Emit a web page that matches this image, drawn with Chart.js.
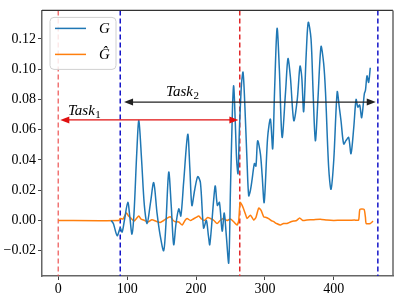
<!DOCTYPE html>
<html>
<head>
<meta charset="utf-8">
<script src="https://cdn.jsdelivr.net/npm/chart.js@4.4.1/dist/chart.umd.min.js"></script>
<style>
  html, body { margin: 0; padding: 0; background: #fff; }
  #wrap { width: 398px; height: 295px; }
</style>
</head>
<body>
<div id="wrap"><canvas id="lineChart" width="398" height="295"></canvas></div>
<script>
// G (blue) and G-hat (orange)
const gX = [77, 80, 85.5, 90, 92.7, 96, 101, 104, 107, 110, 114, 117, 121, 125, 129, 134, 138.6, 143.5, 148, 153, 156, 160.4, 164, 167.6, 171, 175, 178, 182, 188, 191, 194, 198, 202.5, 206.4, 211, 215, 218, 220, 225.7, 228, 231, 234, 238, 241, 244, 247.5, 250, 253, 254.7, 257, 259, 261, 263, 266, 268.3, 271, 274, 276.5, 279, 281.4, 284.8, 287, 289.5, 293.5, 296, 299, 304, 308, 311.3, 314, 317.7, 321, 325, 330, 333.5, 337, 342, 347, 351, 353.5, 356.3, 360, 363, 367, 370, 373.3, 377, 381.5, 385.3, 388, 392.6, 396, 400, 405, 408, 410.6, 414.4, 418, 421.6, 425, 429, 432.4, 435, 437.6, 440.5, 444.4, 446, 448.3, 450.6, 453];
const gY = [0, -0.002, -0.010, -0.005, -0.0077, 0.000, 0.012, 0.002, -0.009, 0.005, 0.045, 0.066, 0.040, 0.010, -0.002, 0.012, 0.025, 0.0045, -0.010, -0.020, -0.005, 0.032, 0.010, -0.016, -0.002, 0.0077, 0.003, 0.025, 0.057, 0.035, 0.0099, 0.020, 0.029, 0.025, -0.005, 0.000, -0.010, -0.016, 0.014, 0.0228, 0.010, 0.012, -0.007, 0.005, -0.010, -0.028, 0.020, 0.075, 0.089, 0.065, 0.040, 0.031, 0.060, 0.090, 0.098, 0.075, 0.040, 0.0163, 0.020, 0.027, 0.0377, 0.036, 0.0527, 0.044, 0.030, 0.012, 0.055, 0.067, 0.0474, 0.085, 0.127, 0.100, 0.055, 0.085, 0.107, 0.095, 0.066, 0.080, 0.102, 0.095, 0.072, 0.110, 0.131, 0.120, 0.085, 0.0527, 0.080, 0.115, 0.104, 0.085, 0.035, 0.0206, 0.040, 0.085, 0.075, 0.0656, 0.0506, 0.053, 0.0549, 0.0442, 0.0613, 0.080, 0.075, 0.0763, 0.068, 0.0838, 0.086, 0.0956, 0.0913, 0.101];

const hX = [0, 88, 90, 94, 99, 102, 105, 110, 113, 117, 120, 124, 130, 136, 142, 148, 153, 158, 163, 167, 170, 175, 180, 184, 187, 192, 196, 200, 204, 208, 212, 217, 221, 226, 230.6, 235, 240, 245, 250, 255, 259.6, 262, 264, 267, 269, 272, 274, 279, 283.7, 287, 291, 294.5, 298.3, 302, 306, 309, 312.8, 317, 322.5, 327, 332, 337, 341.8, 346, 350.5, 355, 361, 370, 380.5, 390, 400, 410, 420, 430, 436, 438, 444, 446, 447, 453, 457];
const hY = [0, 0, 0.0013, 0.001, 0.005, 0.003, 0.0017, -0.0004, 0.001, 0.003, 0.001, 0.0003, -0.001, 0.0005, -0.0005, -0.0013, 0.000, 0.0015, 0.0024, 0.000, -0.0008, -0.001, -0.003, 0.000, 0.0013, 0.000, 0.001, 0.002, 0.003, 0.001, 0.000, 0.002, 0.0013, 0.000, -0.002, 0.000, 0.0013, 0.000, 0.001, -0.001, -0.003, 0.000, 0.012, 0.010, 0.0077, 0.004, 0.0013, 0.0035, 0.0003, 0.002, 0.0082, 0.0067, 0.0024, 0.002, 0.001, 0.000, -0.0008, -0.002, -0.003, -0.002, -0.002, -0.001, -0.0004, 0.000, 0.0017, 0.000, 0.0003, 0.0005, 0.0009, 0.0003, 0, 0.0002, 0.0001, 0.0003, 0.0003, 0.0073, 0.0073, 0.002, -0.002, -0.002, -0.0004];

const xTicks = [0, 100, 200, 300, 400];
const yTicks = [-0.02, 0.00, 0.02, 0.04, 0.06, 0.08, 0.10, 0.12];

// task boundaries (vertical dashed lines) and arrows
const task1Lines = [0, 263.5];
const task2Lines = [90, 464];
const task1Arrow = [3, 261.5, 0.0665];
const task2Arrow = [95.5, 461, 0.0783];
const task1Label = [14, 0.0699];
const task2Label = [156.5, 0.0821];

const blue = '#1f77b4';
const orange = '#ff7f0e';
const serif = "'Liberation Serif', 'DejaVu Serif', serif";

function toPoints(xs, ys) {
    return xs.map((x, i) => ({ x: x, y: ys[i] }));
}

function arrowHead(ctx, x, y, dir, color) {
    ctx.fillStyle = color;
    ctx.beginPath();
    ctx.moveTo(x, y);
    ctx.lineTo(x - dir * 9, y - 3.5);
    ctx.lineTo(x - dir * 9, y + 3.5);
    ctx.closePath();
    ctx.fill();
}

function drawArrow(ctx, xs, ys, a, color) {
    const x1 = xs.getPixelForValue(a[0]);
    const x2 = xs.getPixelForValue(a[1]);
    const y = ys.getPixelForValue(a[2]);
    ctx.strokeStyle = color;
    ctx.lineWidth = 1.3;
    ctx.beginPath();
    ctx.moveTo(x1 + 5, y);
    ctx.lineTo(x2 - 5, y);
    ctx.stroke();
    arrowHead(ctx, x1, y, -1, color);
    arrowHead(ctx, x2, y, 1, color);
}

function drawTask(ctx, xs, ys, pos, sub) {
    const x = xs.getPixelForValue(pos[0]);
    const y = ys.getPixelForValue(pos[1]);
    ctx.fillStyle = '#000';
    ctx.textAlign = 'left';
    ctx.textBaseline = 'alphabetic';
    ctx.font = 'italic 15px ' + serif;
    ctx.fillText('Task', x, y);
    const w = ctx.measureText('Task').width;
    ctx.font = '11px ' + serif;
    ctx.fillText(sub, x + w + 0.5, y + 3);
}

const overlay = {
    id: 'overlay',
    beforeDatasetsDraw(chart) {
        const ctx = chart.ctx;
        const xs = chart.scales.x;
        const ys = chart.scales.y;
        const a = chart.chartArea;
        ctx.save();
        ctx.lineWidth = 1.5;
        ctx.setLineDash([5, 3]);
        const lines = [
            [task1Lines[0], 'rgba(235,70,70,0.75)'],
            [task1Lines[1], '#e0282a'],
            [task2Lines[0], '#1515c8'],
            [task2Lines[1], '#1515c8']
        ];
        lines.forEach(l => {
            const px = xs.getPixelForValue(l[0]);
            ctx.strokeStyle = l[1];
            ctx.beginPath();
            ctx.moveTo(px, a.top);
            ctx.lineTo(px, a.bottom);
            ctx.stroke();
        });
        ctx.restore();
    },
    afterDatasetsDraw(chart) {
        const ctx = chart.ctx;
        const xs = chart.scales.x;
        const ys = chart.scales.y;
        const a = chart.chartArea;
        ctx.save();
        drawArrow(ctx, xs, ys, task1Arrow, '#e01010');
        drawArrow(ctx, xs, ys, task2Arrow, '#222');
        drawTask(ctx, xs, ys, task1Label, '1');
        drawTask(ctx, xs, ys, task2Label, '2');

        // top and right spines
        ctx.strokeStyle = '#333';
        ctx.lineWidth = 1.2;
        ctx.beginPath();
        ctx.moveTo(a.left, a.top);
        ctx.lineTo(a.right, a.top);
        ctx.stroke();
        ctx.strokeStyle = '#666';
        ctx.lineWidth = 1.5;
        ctx.beginPath();
        ctx.moveTo(a.right, a.top);
        ctx.lineTo(a.right, a.bottom);
        ctx.stroke();

        // legend
        const lx = a.left + 8, ly = a.top + 7, lw = 66, lh = 52;
        ctx.fillStyle = 'rgba(255,255,255,0.85)';
        ctx.strokeStyle = '#d0d0d0';
        ctx.lineWidth = 1;
        ctx.beginPath();
        ctx.roundRect(lx, ly, lw, lh, 4);
        ctx.fill();
        ctx.stroke();
        const entries = [['G', blue, ly + 11], ['\u011C', orange, ly + 37]];
        entries.forEach(e => {
            ctx.strokeStyle = e[1];
            ctx.lineWidth = 1.5;
            ctx.beginPath();
            ctx.moveTo(lx + 5, e[2]);
            ctx.lineTo(lx + 36, e[2]);
            ctx.stroke();
            ctx.fillStyle = '#000';
            ctx.font = 'italic 15px ' + serif;
            ctx.textAlign = 'left';
            ctx.textBaseline = 'middle';
            ctx.fillText(e[0], lx + 49, e[2] + 1);
        });
        ctx.restore();
    }
};

const ctx = document.getElementById('lineChart').getContext('2d');

const lineChart = new Chart(ctx, {
    type: 'line',
    data: {
        datasets: [
            {
                label: 'G',
                data: toPoints(gX, gY),
                borderColor: blue,
                borderWidth: 1.5,
                pointRadius: 0,
                tension: 0.3,
                fill: false
            },
            {
                label: 'Ĝ',
                data: toPoints(hX, hY),
                borderColor: orange,
                borderWidth: 1.5,
                pointRadius: 0,
                tension: 0.2,
                fill: false
            }
        ]
    },
    options: {
        responsive: false,
        animation: false,
        layout: { padding: { top: 3, right: 5, left: 0, bottom: 0 } },
        plugins: {
            legend: { display: false },
            tooltip: { enabled: false }
        },
        scales: {
            x: {
                type: 'linear',
                min: -23.6,
                max: 486,
                afterBuildTicks: axis => { axis.ticks = xTicks.map(v => ({ value: v })); },
                afterFit: axis => { axis.height = 19; },
                ticks: {
                    color: '#000',
                    font: { family: serif, size: 14 },
                    padding: 1,
                    maxRotation: 0,
                    callback: v => String(v)
                },
                grid: { drawOnChartArea: false, drawTicks: true, tickLength: 4, color: '#444' },
                border: { display: true, color: '#666', width: 1.5 }
            },
            y: {
                min: -0.0367,
                max: 0.1389,
                afterBuildTicks: axis => { axis.ticks = yTicks.map(v => ({ value: v })); },
                afterFit: axis => { axis.width = 42; },
                ticks: {
                    color: '#000',
                    font: { family: serif, size: 14 },
                    padding: 2,
                    callback: v => (v < 0 ? '\u2212' : '') + Math.abs(v).toFixed(2)
                },
                grid: { drawOnChartArea: false, drawTicks: true, tickLength: 4, color: '#444' },
                border: { display: true, color: '#666', width: 1.5 }
            }
        }
    },
    plugins: [overlay]
});
</script>
</body>
</html>
